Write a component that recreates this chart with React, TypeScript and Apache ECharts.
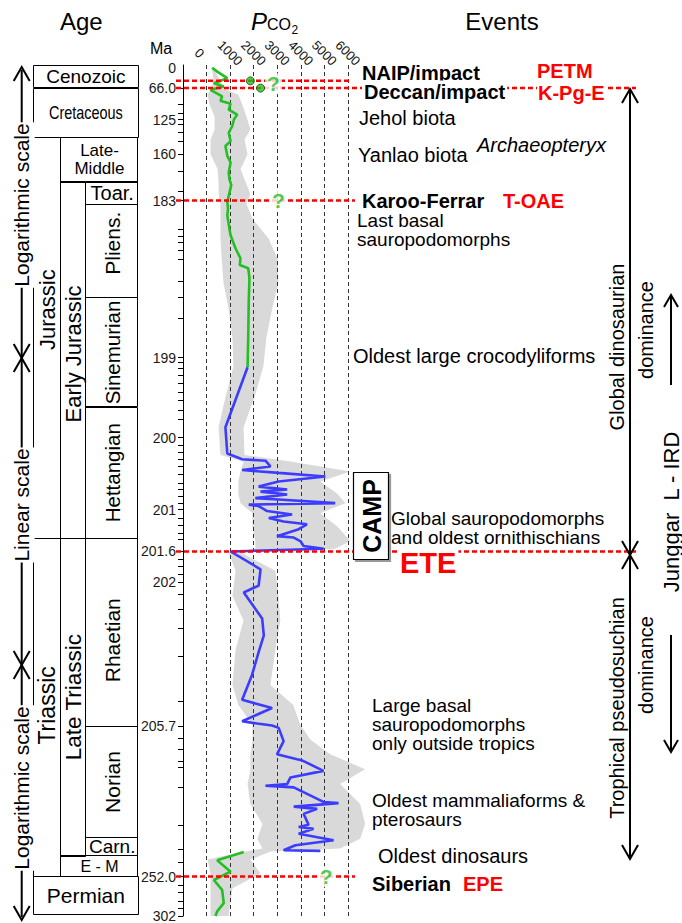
import { useEffect, useRef } from 'react';
import * as echarts from 'echarts';

const FONT = "'Liberation Sans', Arial, Helvetica, sans-serif";
const RED = '#ff0000';
const GREEN = '#22c022';
const BLUE = '#3c3cff';
const BAND = '#d9d9d9';

// ---- age scale of the figure (piecewise: logarithmic / linear / logarithmic) ----
const scaleAges = [0, 56, 66, 125, 160, 183, 199, 200, 201, 201.6, 202, 205.7, 252, 302];
const scalePos = [2.7, 16, 23.3, 55, 90, 136.7, 295, 375.7, 448.3, 490.5, 521.7, 666.7, 818.3, 858];
const AXIS_MAX = 858;

// ---- age tick labels ----
const tickLabelAges = [0, 66, 125, 160, 183, 199, 200, 201, 201.6, 202, 205.7, 252, 302];
const tickLabels = ['0', '66.0', '125', '160', '183', '199', '200', '201', '201.6', '202', '205.7', '252.0', '302'];
const minorTickPos = [39.3, 48.3, 59.3, 67.7, 77.3, 106.7, 127.3, 165.7, 172.7, 179, 186.7, 195.7, 217.7, 234.3, 255.7,
  300, 306, 313.3, 321, 330, 338.3, 347.7, 356.7, 383.3, 390, 397.3, 405, 412.7, 421.7, 427.7, 435, 441.7, 456.7,
  464.3, 471.7, 478.3, 498.3, 505, 513.3, 533.3, 548.3, 567.7, 596, 641, 678.3, 690, 701.7, 708.3, 728.3, 766.7,
  791, 804.3, 826.7, 834.3, 842.7, 850];

// ---- pCO2 axis ----
const X_MIN = -1000;
const X_MAX = 6300;

// ---- pCO2 records (ppm vs age Ma) ----
const greenTopAge = [0, 16.8, 44.6, 59.2, 63.8, 69.2, 81.6, 89.6, 95.2, 106.4, 115.7, 125, 131.7, 138.3, 146.7, 151.7,
  160.8, 164.1, 169.0, 172.3, 175.3, 178.2, 183.13, 183.84, 184.52, 185.86, 186.54, 187.88, 188.89, 189.57, 189.9,
  190.91, 193.27, 196.64, 199.12];
const greenTopCO2 = [240, 450, 880, 310, 730, 170, 660, 590, 1020, 940, 1300, 1160, 1090, 940, 1020, 800, 880, 1020,
  940, 970, 1050, 990, 880, 910, 880, 970, 1020, 1230, 1440, 1410, 1770, 1820, 1790, 1770, 1740];

const blueAge = [199.12, 199.87, 200.22, 200.3, 200.32, 200.4, 200.45, 200.49, 200.54, 200.61, 200.68, 200.72, 200.75,
  200.79, 200.84, 200.86, 200.91, 200.93, 200.95, 201.02, 201.07, 201.12, 201.17, 201.21, 201.28, 201.38, 201.4,
  201.45, 201.52, 201.56, 201.6, 201.83, 202.08, 202.26, 202.93, 203.36, 203.79, 204.38, 205.02, 205.23, 205.57,
  205.63, 205.68, 206.19, 210.28, 214.34, 215.87, 216.18, 219.44, 221.46, 223.51, 224.02, 224.51, 229.0, 229.37,
  230.44, 231.14, 232.67, 236.03, 236.73, 237.25, 238.78, 240.82, 242.35, 243.88, 244.06];
const blueCO2 = [1740, 800, 880, 1510, 2500, 2710, 1510, 3060, 5040, 3060, 2210, 3420, 2290, 3420, 2070, 3060, 5460,
  1790, 2210, 2570, 3630, 2640, 3270, 4260, 3910, 2990, 3700, 3980, 4120, 4970, 1020, 2290, 2210, 1580, 2360, 2430,
  2210, 1930, 1510, 2780, 1510, 2150, 2780, 3060, 3270, 2990, 3840, 4050, 4960, 3560, 3420, 2500, 3700, 4960, 5600,
  3700, 4690, 4120, 4330, 3910, 4540, 3910, 5390, 3770, 3270, 4830];

const greenBotAge = [244.4, 246.98, 250.48, 256.3, 268.9, 285.6, 296.1, 302];
const greenBotCO2 = [1580, 450, 1020, 310, 660, 730, 450, 380];

// uncertainty envelope
const bandAge = [0, 56, 66, 78.4, 97.1, 119.4, 135, 145, 160, 167.4, 174.8, 179.7, 183.33, 184.85, 186.87, 188.89,
  191.41, 193.95, 196.98, 199.11, 199.5, 199.87, 200.24, 200.33, 200.47, 200.61, 200.78, 200.91, 201.05, 201.24,
  201.45, 201.56, 201.61, 201.85, 202.34, 202.98, 203.74, 204.64, 205.15, 205.66, 209.76, 214.34, 218.92, 223.51,
  229.6, 235.72, 240.3, 243.35, 244.3, 246.75, 251.0, 266.8, 302];
const bandLo = [220, 300, 200, 40, 130, 340, 340, 170, 170, 470, 510, 510, 590, 590, 590, 640, 720, 930, 1100, 1140,
  800, 510, 590, 1570, 1440, 1350, 1350, 1440, 1950, 1950, 2070, 2070, 930, 1230, 1100, 1570, 1230, 1100, 1350, 1950,
  1950, 1860, 1860, 1740, 1860, 2370, 2160, 2370, 1650, 40, 170, 170, 170];
const bandHi = [260, 600, 700, 1350, 1520, 1690, 1860, 1610, 1740, 1440, 1690, 1860, 1690, 1950, 2630, 3010, 3050,
  2790, 2540, 2410, 2030, 1570, 1610, 3560, 6100, 4830, 5550, 5890, 4830, 5550, 6100, 5460, 1440, 2920, 3050, 3130,
  2920, 2710, 3680, 3980, 4400, 5250, 6730, 5670, 6520, 6730, 6520, 5670, 2710, 1860, 2290, 1100, 930];

// single estimates and uncertain marks
const dotAge = [56, 66];
const dotCO2 = [1860, 2290];
const qAge = [60, 183, 252];
const qCO2 = [2840, 3050, 5080];

// events (Ma)
const eventAges = [56, 66, 183, 201.6, 252];

// geologic time units: [name, top age, bottom age]
const unitNames = ['Cenozoic', 'Cretaceous', 'Jurassic', 'Late-\nMiddle', 'Early Jurassic', 'Toar.', 'Pliens.',
  'Sinemurian', 'Hettangian', 'Triassic', 'Late Triassic', 'Rhaetian', 'Norian', 'Carn.', 'E - M', 'Permian'];
const unitTop = [null, 66, 142.7, 142.7, 173.6, 173.6, 183.43, 192.9, 199.62, 201.41, 201.41, 201.41, 205.7, 240, 245.6, 252];
const unitBase = [66, 142.7, 201.41, 173.6, 201.41, 183.43, 192.9, 199.62, 201.41, 252, 245.6, 205.7, 240, 245.6, 252, 300.4];

function ageToPos(a: number): number {
  const n = scaleAges.length;
  if (a <= scaleAges[0]) return scalePos[0];
  for (let i = 1; i < n; i++) {
    if (a <= scaleAges[i]) {
      const t = (a - scaleAges[i - 1]) / (scaleAges[i] - scaleAges[i - 1]);
      return scalePos[i - 1] + t * (scalePos[i] - scalePos[i - 1]);
    }
  }
  return scalePos[n - 1];
}

function buildOption(): any {
  const toData = (ages: number[], vals: number[]) => vals.map((v, i) => [v, ageToPos(ages[i])]);
  const labelPos = tickLabelAges.map(ageToPos);
  const tickPos = labelPos.slice(1).concat(minorTickPos);
  return {
    animation: false,
    textStyle: { fontFamily: FONT },
    grid: { left: 183, top: 65, width: 172, height: AXIS_MAX, containLabel: false },
    xAxis: {
      type: 'value', position: 'top', min: X_MIN, max: X_MAX, interval: 1000, z: 2,
      axisLine: { show: false, onZero: false }, axisTick: { show: false },
      axisLabel: {
        rotate: 45, align: 'center', verticalAlign: 'middle', margin: 12, fontSize: 13, color: '#111',
        fontFamily: FONT,
        formatter: (v: number) => (v < 0 || v > 6000 ? '' : v === 0 ? '{z|0}' : String(v)),
        rich: { z: { padding: [10, 10, 0, 0], fontSize: 13, color: '#111', fontFamily: FONT } },
      },
      splitLine: {
        show: true, showMinLine: false, showMaxLine: false,
        lineStyle: { color: '#333', type: [4, 3], width: 1 },
      },
    },
    yAxis: {
      type: 'value', inverse: true, min: 0, max: AXIS_MAX, z: 3, position: 'left',
      axisLine: { show: true, onZero: false, lineStyle: { color: '#000', width: 1, type: 'solid' } },
      axisTick: { show: true, customValues: tickPos, length: 5, lineStyle: { color: '#000', width: 1 } },
      axisLabel: {
        customValues: labelPos, margin: 7, fontSize: 14, color: '#1a1a1a', fontFamily: FONT,
        formatter: (v: number) => {
          const i = labelPos.findIndex((p) => Math.abs(p - v) < 0.05);
          return i >= 0 ? tickLabels[i] : '';
        },
      },
      splitLine: { show: false },
    },
    series: [
      {
        type: 'custom', z: 1, silent: true, data: [[0, 0]],
        renderItem: (_p: any, api: any) => {
          const pts: number[][] = [];
          for (let i = 0; i < bandAge.length; i++) pts.push(api.coord([bandLo[i], ageToPos(bandAge[i])]));
          for (let i = bandAge.length - 1; i >= 0; i--) pts.push(api.coord([bandHi[i], ageToPos(bandAge[i])]));
          return { type: 'polygon', shape: { points: pts }, style: { fill: BAND } };
        },
      },
      { type: 'line', z: 3, data: toData(greenTopAge, greenTopCO2), showSymbol: false, lineStyle: { color: GREEN, width: 2.6 } },
      { type: 'line', z: 3, data: toData(blueAge, blueCO2), showSymbol: false, lineStyle: { color: BLUE, width: 2.6 } },
      { type: 'line', z: 3, data: toData(greenBotAge, greenBotCO2), showSymbol: false, lineStyle: { color: GREEN, width: 2.6 } },
      {
        type: 'scatter', z: 6, data: toData(dotAge, dotCO2), symbol: 'circle', symbolSize: 8,
        itemStyle: { color: GREEN, borderColor: '#145214', borderWidth: 1 },
      },
      {
        type: 'scatter', z: 6, data: toData(qAge, qCO2), symbolSize: 1, itemStyle: { color: 'rgba(0,0,0,0)' },
        label: {
          show: true, position: 'inside', formatter: '?', color: GREEN, fontSize: 21, fontWeight: 'bold',
          fontFamily: FONT, backgroundColor: '#fff', padding: [0, 2],
        },
      },
    ],
  };
}

function buildGraphics(chart: any): any[] {
  const posPix = (p: number) => chart.convertToPixel({ yAxisIndex: 0 }, p) as number;
  const yPix = (age: number) => posPix(ageToPos(age));
  const axisX = chart.convertToPixel({ xAxisIndex: 0 }, X_MIN) as number;
  const snap = (v: number) => Math.round(v - 0.5) + 0.5;
  const g: any[] = [];
  const txt = (text: string, x: number, y: number, o: any = {}) => ({
    type: 'text', x, y, z: o.z ?? 12, rotation: o.rot ?? 0, scaleX: o.sx ?? 1, silent: true,
    style: {
      text, fill: o.color ?? '#000', fontSize: o.size ?? 20, fontWeight: o.bold ? 'bold' : 'normal',
      fontStyle: o.italic ? 'italic' : 'normal', fontFamily: FONT, align: o.align ?? 'left',
      verticalAlign: 'middle', backgroundColor: o.bg, padding: o.pad, lineHeight: o.lh,
    },
  });
  const line = (x1: number, y1: number, x2: number, y2: number, st: any, z = 10) =>
    ({ type: 'line', z, silent: true, shape: { x1, y1, x2, y2 }, style: st });
  const head = (x: number, y: number, dir: number, w = 8, h = 14, z = 13) => ({
    type: 'polyline', z, silent: true,
    shape: { points: [[x - w, y - dir * h], [x, y], [x + w, y - dir * h]] },
    style: { stroke: '#000', lineWidth: 2, fill: null },
  });
  const R = Math.PI / 2;

  // headers
  g.push(txt('Age', 81.3, 21.5, { size: 24, align: 'center' }));
  g.push(txt('P', 251, 21.5, { size: 24, italic: true }));
  g.push(txt('CO', 267, 24.5, { size: 16 }));
  g.push(txt('2', 291.5, 29.5, { size: 12 }));
  g.push(txt('Events', 502, 21.5, { size: 24, align: 'center' }));
  g.push(txt('Ma', 161, 48.5, { size: 16, align: 'center' }));

  // solid age axis line
  g.push(line(snap(axisX), posPix(0), snap(axisX), posPix(AXIS_MAX), { stroke: '#000', lineWidth: 1 }, 4));

  // geologic column
  const topY = posPix(0.7);
  const colX = { full: [33, 137.7], per: [33, 60.3], epo: [60.3, 85.7], stg: [85.7, 137.7], es: [60.3, 137.7] } as any;
  const unitCol = ['full', 'full', 'per', 'es', 'epo', 'stg', 'stg', 'stg', 'stg', 'per', 'epo', 'stg', 'stg', 'stg', 'es', 'full'];
  const unitRot = [0, 0, 1, 0, 1, 0, 1, 1, 1, 1, 1, 1, 1, 0, 0, 0];
  const unitSize = [19, 18.5, 22, 17, 22, 20, 21, 20.5, 20.5, 23, 22.5, 21, 21, 19, 16, 21];
  const unitDy = [0, 0, -28, 0, -6, 0, -8, 0, 0, -2, 0, 8, 0, 0, 0, 0];
  unitNames.forEach((name, i) => {
    const [x0, x1] = colX[unitCol[i]];
    const y0 = unitTop[i] === null ? topY : yPix(unitTop[i] as number);
    const y1 = yPix(unitBase[i]);
    g.push({
      type: 'rect', z: 10, silent: true,
      shape: { x: snap(x0), y: snap(y0), width: Math.round(x1 - x0), height: Math.round(y1 - y0) },
      style: { fill: 'rgba(0,0,0,0)', stroke: '#000', lineWidth: 1 },
    });
    g.push(txt(name, (x0 + x1) / 2 + 0.5, (y0 + y1) / 2 + unitDy[i], {
      size: unitSize[i], align: 'center', rot: unitRot[i] ? R : 0, sx: name === 'Cretaceous' ? 0.78 : 1,
      lh: name.includes('\n') ? 18 : undefined,
    }));
  });

  // left scale annotation
  g.push(line(21.7, 70, 21.7, 917, { stroke: '#000', lineWidth: 2 }));
  g.push(head(21.7, 67, -1));
  g.push(head(21.7, 358, 1));
  g.push(head(21.7, 358, -1));
  g.push(head(21.7, 665, 1));
  g.push(head(21.7, 665, -1));
  g.push(head(21.7, 920, 1));
  const scaleTxt = { size: 21, align: 'center', rot: R, bg: '#fff', lh: 26, pad: [0, 1], z: 12 };
  g.push(txt('Logarithmic scale', 21.7, 205, scaleTxt));
  g.push(txt('Linear scale', 21.7, 505, scaleTxt));
  g.push(txt('Logarithmic scale', 21.7, 788, scaleTxt));

  // event lines
  const lineEnd = [352, 636, 355, 636, 355];
  eventAges.forEach((a, i) => {
    const y = yPix(a);
    g.push(line(axisX - 7, y, lineEnd[i], y, { stroke: RED, lineWidth: 2.5, lineDash: [5, 3] }, 5));
  });

  // event texts
  g.push(txt('NAIP/impact', 362, 73, { bold: true }));
  g.push(txt('PETM', 537, 71, { bold: true, color: RED }));
  g.push(txt('Deccan/impact', 362, 91.5, { bold: true, bg: '#fff', pad: [1, 2] }));
  g.push(txt('K-Pg-E', 537, 92.5, { bold: true, color: RED, bg: '#fff', pad: [0, 1] }));
  g.push(txt('Jehol biota', 359, 118));
  g.push(txt('Archaeopteryx', 477, 145, { italic: true }));
  g.push(txt('Yanlao biota', 358, 155));
  g.push(txt('Karoo-Ferrar', 362, 200.5, { bold: true }));
  g.push(txt('T-OAE', 503, 200.5, { bold: true, color: RED }));
  g.push(txt('Last basal\nsauropodomorphs', 357, 230, { size: 19, lh: 19 }));
  g.push(txt('Oldest large crocodyliforms', 353, 356));
  g.push(txt('Global sauropodomorphs\nand oldest ornithischians', 391, 527.5, { size: 19, lh: 19 }));
  g.push(txt('ETE', 398, 562.5, { bold: true, color: RED, size: 29, bg: '#fff', pad: [0, 2] }));
  g.push(txt('Large basal\nsauropodomorphs\nonly outside tropics', 372, 724, { size: 19, lh: 19 }));
  g.push(txt('Oldest mammaliaforms &\npterosaurs', 372, 810, { size: 19, lh: 19 }));
  g.push(txt('Oldest dinosaurs', 378, 856));
  g.push(txt('Siberian', 372, 884, { bold: true }));
  g.push(txt('EPE', 463, 884, { bold: true, color: RED }));

  // CAMP box
  g.push({
    type: 'rect', z: 11, silent: true, shape: { x: 353.5, y: 472.5, width: 35, height: 87 },
    style: { fill: '#fff', stroke: '#000', lineWidth: 1.2, shadowOffsetX: 2, shadowOffsetY: 2, shadowBlur: 1, shadowColor: '#999' },
  });
  g.push(txt('CAMP', 371.5, 516, { size: 25, bold: true, rot: R, align: 'center' }));

  // right annotation
  g.push(line(630, 90, 630, 857, { stroke: '#000', lineWidth: 2 }));
  g.push(head(630, 89, -1));
  g.push(head(630, 555, 1));
  g.push(head(630, 555, -1));
  g.push(head(630, 859, 1));
  g.push(txt('Global dinosaurian', 617, 347, { align: 'center', rot: R }));
  g.push(txt('dominance', 646, 330, { align: 'center', rot: R }));
  g.push(txt('Trophical pseudosuchian', 617, 708, { align: 'center', rot: R }));
  g.push(txt('dominance', 646, 665, { align: 'center', rot: R }));
  g.push(line(671, 297, 671, 385, { stroke: '#000', lineWidth: 2 }));
  g.push(head(671, 295, -1, 7, 12));
  g.push(line(671, 635, 671, 750, { stroke: '#000', lineWidth: 2 }));
  g.push(head(671, 752, 1, 7, 12));
  g.push(txt('Junggar  L - IRD', 671, 512, { size: 22, align: 'center', rot: R }));

  return g;
}

export default function App() {
  const ref = useRef<HTMLDivElement>(null);
  useEffect(() => {
    document.body.style.margin = '0';
    document.body.style.overflow = 'hidden';
    const chart = echarts.init(ref.current as HTMLDivElement, null, { renderer: 'svg' });
    chart.setOption(buildOption());
    chart.setOption({ graphic: buildGraphics(chart) });
    return () => chart.dispose();
  }, []);
  return <div ref={ref} style={{ width: 682, height: 923 }} />;
}
